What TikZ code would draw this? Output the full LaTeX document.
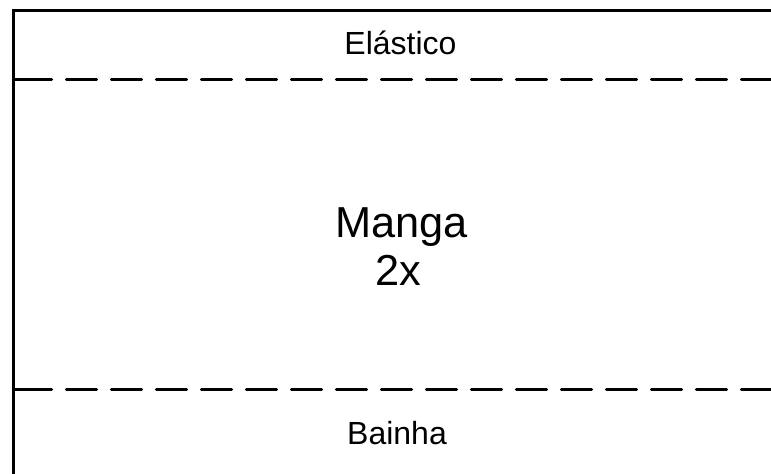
\documentclass[tikz,border=0pt]{standalone}
\usepackage{fontspec}
\setmainfont{Liberation Sans}
\tikzstyle{borda} = [line width=2.4pt, line cap=rect]
\tikzstyle{costura} = [line width=2.4pt, line cap=round, dash pattern=on 22.5pt off 11.25pt]
\tikzstyle{rotulo} = [anchor=base, inner sep=0pt, font=\fontsize{24pt}{28pt}\selectfont]
\tikzstyle{rotuloGrande} = [rotulo, font=\fontsize{32.5pt}{36pt}\selectfont]

\begin{document}
\begin{tikzpicture}[x=0.75pt, y=-0.75pt]
    \useasboundingbox (0,0) rectangle (771,474);
    \clip (0,0) rectangle (771,474);
    % molde cortado pela borda da imagem
    \coordinate (cantoSup) at (13.5,10.5);
    \coordinate (cantoInf) at (13.5,490);
    \coordinate (fimSup) at (790,10.5);
    \draw [borda] (cantoInf) -- (cantoSup) -- (fimSup);
    
    \coordinate (elasticoEsq) at (13.5,79.5);
    \coordinate (elasticoIni) at (21.5,79.5);
    \coordinate (elasticoFim) at (790,79.5);
    \draw [borda, line cap=butt] (elasticoEsq) -- (elasticoIni);
    \draw [costura] (elasticoIni) -- (elasticoFim);
    
    \coordinate (bainhaEsq) at (13.5,389.5);
    \coordinate (bainhaIni) at (21.5,389.5);
    \coordinate (bainhaFim) at (790,389.5);
    \draw [borda, line cap=butt] (bainhaEsq) -- (bainhaIni);
    \draw [costura] (bainhaIni) -- (bainhaFim);
    
    \node (Elastico) [rotulo] at (400.5,55) {Elástico};
    \node (Manga) [rotuloGrande] at (401.5,238) {Manga};
    \node (Vezes) [rotuloGrande] at (398.5,285) {2x};
    \node (Bainha) [rotulo] at (397,444) {Bainha};
\end{tikzpicture}
\end{document}
